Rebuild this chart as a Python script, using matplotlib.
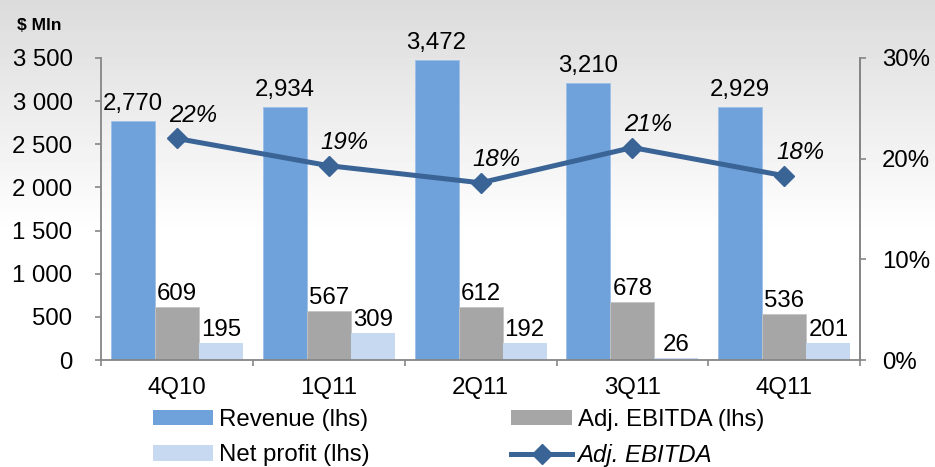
import matplotlib
matplotlib.use('Agg')
import matplotlib.pyplot as plt
import numpy as np
from matplotlib.patches import Patch
from matplotlib.lines import Line2D
from matplotlib.ticker import FuncFormatter

categories = ['4Q10', '1Q11', '2Q11', '3Q11', '4Q11']
revenue = [2770, 2934, 3472, 3210, 2929]
adj_ebitda = [609, 567, 612, 678, 536]
net_profit = [195, 309, 192, 26, 201]
ebitda_margin = [22.0, 19.3, 17.6, 21.1, 18.3]
margin_labels = ['22%', '19%', '18%', '21%', '18%']
left_ticks = [0, 500, 1000, 1500, 2000, 2500, 3000, 3500]
right_ticks = [0, 10, 20, 30]
legend_labels = ['Revenue (lhs)', 'Net profit (lhs)', 'Adj. EBITDA (lhs)', 'Adj. EBITDA']

plt.rcParams['font.family'] = ['Liberation Sans', 'DejaVu Sans']
FS = 17.3
C_REV = '#6fa1db'
C_EBITDA = '#a6a6a6'
C_NET = '#c6d9f1'
C_LINE = '#3a6396'
C_AX = '#868686'

fig = plt.figure(figsize=(9.35, 4.67), dpi=100)

# background gradient
bg = fig.add_axes([0, 0, 1, 1], zorder=-10)
H = 467
rows = np.arange(H)
vals = np.clip(0.86 + rows / (0.5 * H) * 0.14, 0, 1)
img = np.tile(vals[:, None], (1, 10))
bg.imshow(img, cmap='gray', vmin=0, vmax=1, aspect='auto', extent=[0, 1, 0, 1])
bg.set_xlim(0, 1); bg.set_ylim(0, 1)
bg.axis('off')

ax = fig.add_axes([0.108, 0.229, 0.812, 0.647])
ax.patch.set_alpha(0)
x = np.arange(len(categories))
w = 0.29
ax.bar(x - w, revenue, w, color=C_REV, edgecolor='#9dbfe8', linewidth=0.6, zorder=2)
ax.bar(x, adj_ebitda, w, color=C_EBITDA, edgecolor='#c4c4c4', linewidth=0.6, zorder=2)
ax.bar(x + w, net_profit, w, color=C_NET, linewidth=0, zorder=2)

for xi, v in zip(x - w, revenue):
    ax.annotate(f'{v:,}', (xi, v), xytext=(0, 6), textcoords='offset pixels',
                ha='center', va='bottom', fontsize=FS)
for xi, v in zip(x, adj_ebitda):
    ax.annotate(f'{v:,}', (xi, v), xytext=(0, 2), textcoords='offset pixels',
                ha='center', va='bottom', fontsize=FS)
for xi, v in zip(x + w, net_profit):
    ax.annotate(f'{v:,}', (xi, v), xytext=(0, 2), textcoords='offset pixels',
                ha='center', va='bottom', fontsize=FS)

ax.set_xlim(-0.5, len(categories) - 0.5)
ax.set_ylim(0, 3500)
ax.set_yticks(left_ticks)
ax.yaxis.set_major_formatter(FuncFormatter(lambda v, p: f'{int(v):,}'.replace(',', ' ')))
ax.set_xticks(np.arange(-0.5, len(categories), 1))
ax.set_xticklabels([])
ax.set_xticks(x, minor=True)
ax.set_xticklabels(categories, minor=True)
ax.tick_params(axis='x', which='minor', length=0, pad=12, labelsize=FS)
ax.tick_params(axis='x', which='major', length=4.5, width=1.2, color=C_AX)
ax.tick_params(axis='y', length=4.5, width=1.2, color=C_AX, pad=16, labelsize=FS)
ax.spines['top'].set_visible(False)
for s in ['left', 'bottom', 'right']:
    ax.spines[s].set_color(C_AX)
    ax.spines[s].set_linewidth(1.3)

ax2 = ax.twinx()
ax2.set_ylim(0, 30)
ax2.set_yticks(right_ticks)
ax2.set_yticklabels([f'{t}%' for t in right_ticks])
ax2.tick_params(axis='y', length=4.5, width=1.2, color=C_AX, pad=11, labelsize=FS)
ax2.spines['top'].set_visible(False)
ax2.spines['left'].set_visible(False)
ax2.spines['bottom'].set_visible(False)
ax2.spines['right'].set_color(C_AX)
ax2.spines['right'].set_linewidth(1.3)
ax2.plot(x, ebitda_margin, color=C_LINE, lw=3.6, marker='D', ms=10.5, zorder=5)
for xi, v, lab in zip(x, ebitda_margin, margin_labels):
    ax2.annotate(lab, (xi, v), xytext=(16, 23), textcoords='offset pixels',
                 ha='center', va='center', fontsize=FS, style='italic')

fig.text(17 / 935, 1 - 26 / 467, '$ Mln', fontsize=12.5, fontweight='bold', va='center', ha='left')

handles = [Patch(facecolor=C_REV), Patch(facecolor=C_NET), Patch(facecolor=C_EBITDA),
           Line2D([], [], color=C_LINE, lw=3.6, marker='D', ms=10)]
leg = fig.legend(handles, legend_labels, ncol=2, loc='upper left',
                 bbox_to_anchor=(153 / 935, 1 - 409 / 467), frameon=False,
                 handlelength=2.5, handleheight=0.62, handletextpad=0.25,
                 columnspacing=5.9, labelspacing=0.55, borderpad=0, borderaxespad=0,
                 fontsize=FS, numpoints=1)
leg.get_texts()[3].set_style('italic')

fig.savefig('out.png', dpi=100)
